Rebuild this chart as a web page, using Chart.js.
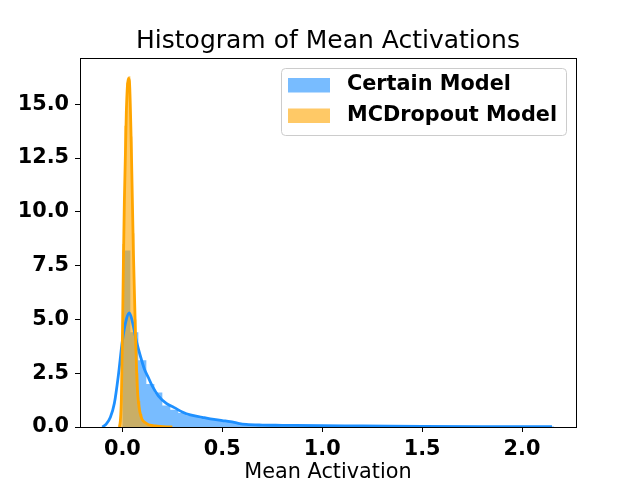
<!DOCTYPE html>
<html>
<head>
<meta charset="utf-8">
<title>Histogram of Mean Activations</title>
<script src="https://cdn.jsdelivr.net/npm/chart.js@4.4.0/dist/chart.umd.min.js"></script>
<style>
  html, body { margin: 0; padding: 0; background: #fff; }
  #grafico { display: block; }
</style>
</head>
<body>
<canvas id="grafico" width="640" height="480"></canvas>
<script>
// valores
var seriesLabels = ['Certain Model', 'MCDropout Model'];

var binStartCertain = 0.0;
var binWidthCertain = 0.04;
var histCertain = [8.2, 4.4, 3.1, 2.0, 1.6, 1.0, 0.8, 0.65, 0.55, 0.48, 0.42, 0.36, 0.3,
	0.24, 0.17, 0.12, 0.1, 0.09, 0.08, 0.08, 0.07, 0.07, 0.06, 0.06, 0.05, 0.05,
	0.05, 0.05, 0.04, 0.04, 0.04, 0.04, 0.04, 0.03, 0.03, 0.03, 0.03, 0.03, 0.03, 0.03,
	0.03, 0.03, 0.02, 0.02, 0.02, 0.02, 0.02, 0.02, 0.02, 0.02, 0.02, 0.02, 0.02, 0.02];

var binStartMCDropout = -0.01;
var binWidthMCDropout = 0.01;
var histMCDropout = [1.5, 8.5, 14.0, 16.0, 16.3, 13.5, 9.0, 5.0, 2.5, 1.2, 0.6, 0.3, 0.18,
	0.1, 0.07, 0.05, 0.04, 0.03, 0.02, 0.02, 0.01, 0.01, 0.01, 0.01, 0.01, 0.01];

var kdeCertainX = [-0.10, -0.08, -0.06, -0.04, -0.02, 0.0, 0.02, 0.035, 0.05, 0.07, 0.09, 0.11,
	0.13, 0.15, 0.18, 0.22, 0.26, 0.30, 0.34, 0.40, 0.44, 0.50, 0.54, 0.58, 0.62, 0.70,
	0.80, 1.0, 1.2, 1.5, 1.8, 2.15];
var kdeCertainY = [0.0, 0.15, 0.45, 1.1, 2.4, 4.0, 5.0, 5.3, 4.9, 4.0, 3.3, 2.7,
	2.3, 1.9, 1.45, 1.1, 0.9, 0.7, 0.56, 0.45, 0.38, 0.3, 0.25, 0.17, 0.12, 0.09,
	0.08, 0.06, 0.05, 0.03, 0.02, 0.02];

var kdeMCDropoutX = [-0.015, -0.01, -0.005, 0.0, 0.005, 0.01, 0.02, 0.03, 0.035, 0.045,
	0.055, 0.065, 0.075, 0.09, 0.115, 0.165, 0.25];
var kdeMCDropoutY = [0.0, 0.3, 1.3, 4.0, 7.5, 10.5, 14.7, 16.2, 16.1, 12.9,
	8.2, 4.5, 1.8, 0.6, 0.2, 0.05, 0.0];

var xTicks = [0, 0.5, 1, 1.5, 2];
var yTicks = [0, 2.5, 5, 7.5, 10, 12.5, 15];

var corAzul = 'rgb(30,144,255)';
var corLaranja = 'rgb(255,165,0)';
var fillAzul = 'rgba(30,144,255,0.6)';
var fillLaranja = 'rgba(255,165,0,0.6)';
var fonte = 'DejaVu Sans';

function histPoints(start, width, heights) {
	var pts = heights.map(function(h, i) {
		return { x: start + i * width, y: h };
	});
	pts.push({ x: start + heights.length * width, y: 0 });
	return pts;
}

function curvePoints(xs, ys) {
	return xs.map(function(x, i) {
		return { x: x, y: ys[i] };
	});
}

// titulo centrado sobre a area do grafico, como no matplotlib
var titleOverArea = {
	id: 'titleOverArea',
	afterLayout: function(chart) {
		if (chart.titleBlock) {
			chart.titleBlock.left = chart.chartArea.left;
			chart.titleBlock.right = chart.chartArea.right;
			chart.titleBlock.width = chart.chartArea.right - chart.chartArea.left;
		}
	}
};

// moldura completa do eixo (topo e direita tambem)
var frame = {
	id: 'frame',
	afterDatasetsDraw: function(chart) {
		var ctx = chart.ctx, a = chart.chartArea;
		var l = Math.round(a.left) + 0.5, t = Math.round(a.top) + 0.5;
		var r = Math.round(a.right) + 0.5, b = Math.round(a.bottom) + 0.5;
		ctx.save();
		ctx.strokeStyle = '#000';
		ctx.lineWidth = 1;
		ctx.strokeRect(l, t, r - l, b - t);
		ctx.restore();
	}
};

// legenda dentro da area, canto superior direito
var legendInside = {
	id: 'legendInside',
	afterDraw: function(chart) {
		var ctx = chart.ctx, a = chart.chartArea;
		var w = 285, h = 67;
		var x = Math.round(a.right) - 10 - w, y = Math.round(a.top) + 10;
		var fills = [fillAzul, fillLaranja];
		ctx.save();
		ctx.beginPath();
		ctx.roundRect(x + 0.5, y + 0.5, w, h, 4);
		ctx.fillStyle = 'rgba(255,255,255,0.8)';
		ctx.fill();
		ctx.strokeStyle = '#cccccc';
		ctx.lineWidth = 1;
		ctx.stroke();
		ctx.font = 'bold 20.8px "' + fonte + '"';
		ctx.textBaseline = 'middle';
		ctx.textAlign = 'left';
		seriesLabels.forEach(function(label, i) {
			var cy = y + 17 + i * 30.5;
			ctx.fillStyle = fills[i];
			ctx.fillRect(x + 7, cy - 7, 42, 14.5);
			ctx.fillStyle = '#000';
			ctx.fillText(label, x + 66, cy);
		});
		ctx.restore();
	}
};

var ctx = document.getElementById('grafico').getContext('2d');

var grafico = new Chart(ctx, {
	type: 'line',
	data: {
		datasets: [{
			label: seriesLabels[1] + ' kde',
			data: curvePoints(kdeMCDropoutX, kdeMCDropoutY),
			borderColor: corLaranja,
			borderWidth: 2.8,
			cubicInterpolationMode: 'monotone',
			pointRadius: 0,
			fill: false,
			order: 0
		}, {
			label: seriesLabels[0] + ' kde',
			data: curvePoints(kdeCertainX, kdeCertainY),
			borderColor: corAzul,
			borderWidth: 2.8,
			cubicInterpolationMode: 'monotone',
			pointRadius: 0,
			fill: false,
			order: 1
		}, {
			label: seriesLabels[1],
			data: histPoints(binStartMCDropout, binWidthMCDropout, histMCDropout),
			stepped: true,
			borderWidth: 0,
			borderColor: 'rgba(0,0,0,0)',
			backgroundColor: fillLaranja,
			pointRadius: 0,
			fill: 'origin',
			order: 2
		}, {
			label: seriesLabels[0],
			data: histPoints(binStartCertain, binWidthCertain, histCertain),
			stepped: true,
			borderWidth: 0,
			borderColor: 'rgba(0,0,0,0)',
			backgroundColor: fillAzul,
			pointRadius: 0,
			fill: 'origin',
			order: 3
		}]
	},
	options: {
		responsive: false,
		animation: false,
		devicePixelRatio: 1,
		events: [],
		layout: { padding: { left: 0, right: 64, top: 0, bottom: 0 } },
		plugins: {
			legend: { display: false },
			tooltip: { enabled: false },
			title: {
				display: true,
				text: 'Histogram of Mean Activations',
				color: '#000',
				font: { family: fonte, size: 25, weight: 'normal', lineHeight: 1.2 },
				padding: { top: 26, bottom: 2 }
			}
		},
		scales: {
			x: {
				type: 'linear',
				min: -0.212,
				max: 2.27,
				afterBuildTicks: function(scale) {
					scale.ticks = xTicks.map(function(v) { return { value: v }; });
				},
				afterFit: function(scale) { scale.height = 53; },
				grid: { drawOnChartArea: false, drawTicks: true, tickLength: 5, tickColor: '#000' },
				border: { display: true, color: '#000', width: 1 },
				ticks: {
					color: '#000',
					padding: 5,
					maxRotation: 0,
					font: { family: fonte, size: 20.8, weight: 'bold' },
					callback: function(v) { return Number(v).toFixed(1); }
				},
				title: {
					display: true,
					text: 'Mean Activation',
					color: '#000',
					font: { family: fonte, size: 20.8, weight: 'normal', lineHeight: 0.75 },
					padding: { top: 0, bottom: 0 }
				}
			},
			y: {
				type: 'linear',
				min: 0,
				max: 17.15,
				afterBuildTicks: function(scale) {
					scale.ticks = yTicks.map(function(v) { return { value: v }; });
				},
				afterFit: function(scale) { scale.width = 80; },
				grid: { drawOnChartArea: false, drawTicks: true, tickLength: 5, tickColor: '#000' },
				border: { display: true, color: '#000', width: 1 },
				ticks: {
					color: '#000',
					padding: 6,
					font: { family: fonte, size: 20.8, weight: 'bold' },
					callback: function(v) { return Number(v).toFixed(1); }
				}
			}
		}
	},
	plugins: [titleOverArea, frame, legendInside]
});
</script>
</body>
</html>
